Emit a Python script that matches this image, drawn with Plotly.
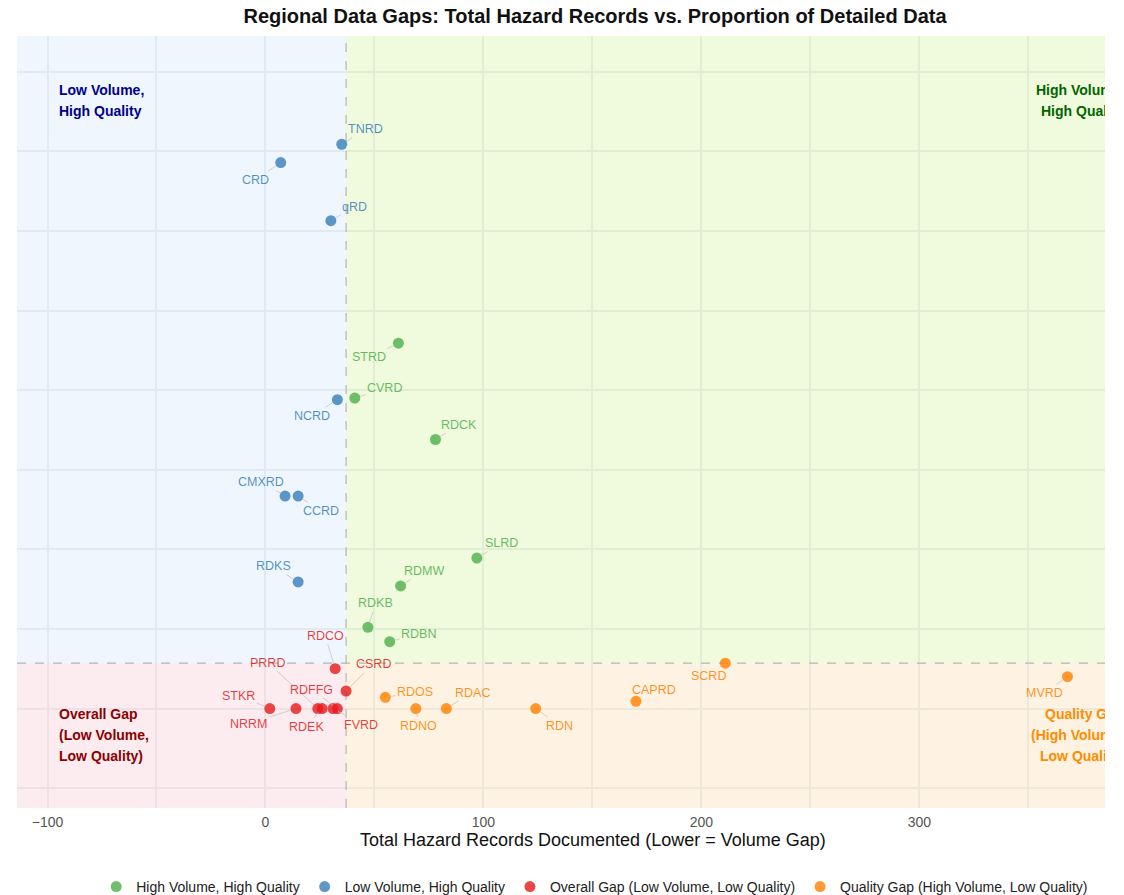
import numpy as np
import plotly.graph_objects as go

# ---------------- data ----------------
hvhq_regions = ["STRD", "CVRD", "RDCK", "SLRD", "RDMW", "RDKB", "RDBN"]
hvhq_records = [61, 41, 78, 97, 62, 47, 57]
hvhq_prop = [0.459, 0.390, 0.338, 0.189, 0.154, 0.102, 0.084]

lvhq_regions = ["TNRD", "CRD", "qRD", "NCRD", "CMXRD", "CCRD", "RDKS"]
lvhq_records = [35, 7, 30, 33, 9, 15, 15]
lvhq_prop = [0.709, 0.686, 0.613, 0.388, 0.267, 0.267, 0.159]

gap_regions = ["RDCO", "CSRD", "STKR", "NRRM", "PRRD", "RDEK", "FVRD", "RDFFG"]
gap_records = [32, 37, 2, 14, 24, 26, 31, 33]
gap_prop = [0.050, 0.022, 0.0, 0.0, 0.0, 0.0, 0.0, 0.0]

qgap_regions = ["SCRD", "MVRD", "CAPRD", "RDOS", "RDNO", "RDAC", "RDN"]
qgap_records = [211, 368, 170, 55, 69, 83, 124]
qgap_prop = [0.057, 0.040, 0.009, 0.014, 0.0, 0.0, 0.0]

categories = [
    "High Volume, High Quality",
    "Low Volume, High Quality",
    "Overall Gap (Low Volume, Low Quality)",
    "Quality Gap (High Volume, Low Quality)",
]
x_tick_vals = [-100, 0, 100, 200, 300]
x_minor_vals = [-50, 50, 150, 250, 350]

# ---------------- styling / positions ----------------
series = [
    (categories[0], hvhq_regions, hvhq_records, hvhq_prop, (77, 175, 74)),
    (categories[1], lvhq_regions, lvhq_records, lvhq_prop, (55, 126, 184)),
    (categories[2], gap_regions, gap_records, gap_prop, (228, 26, 28)),
    (categories[3], qgap_regions, qgap_records, qgap_prop, (255, 127, 0)),
]

# label offsets (pixels) relative to each point
label_offsets = {
    "TNRD": (24, -15), "CRD": (-25, 17), "qRD": (24, -14), "NCRD": (-25, 16),
    "CMXRD": (-24, -14), "CCRD": (23, 15), "RDKS": (-25, -16),
    "STRD": (-29, 14), "CVRD": (30, -10), "RDCK": (24, -15), "SLRD": (25, -15),
    "RDMW": (23, -15), "RDKB": (8, -24), "RDBN": (29, -8),
    "RDCO": (-10, -33), "PRRD": (-50, -46), "CSRD": (27, -27), "RDFFG": (-26, -19),
    "FVRD": (28, 16), "RDEK": (-16, 18), "STKR": (-31, -13), "NRRM": (-47, 15),
    "RDOS": (30, -5), "RDNO": (3, 17), "RDAC": (26, -16), "RDN": (24, 17),
    "CAPRD": (18, -11), "SCRD": (-17, 13), "MVRD": (-23, 16),
}

all_x = np.array(hvhq_records + lvhq_records + gap_records + qgap_records, dtype=float)
all_y = np.array(hvhq_prop + lvhq_prop + gap_prop + qgap_prop, dtype=float)
x_med = float(np.median(all_x))
y_med = float(np.median(all_y))

x_range = [-114.0, 385.2]
y_range = [-0.125, 0.845]

FONT = "Arial, Liberation Sans, Helvetica, sans-serif"

fig = go.Figure()

annotations = []
for name, regs, xs, ys, rgb in series:
    col = "rgb(%d,%d,%d)" % rgb
    fig.add_trace(go.Scatter(
        x=xs, y=ys, mode="markers+text", name=name,
        text=["" for _ in regs],
        textfont=dict(color="rgba(255,255,255,0.6)", size=10),
        marker=dict(color=col, size=11, opacity=0.8, line=dict(width=0)),
        hovertext=regs, hoverinfo="text+x+y",
    ))
    for r, xv, yv in zip(regs, xs, ys):
        dx, dy = label_offsets[r]
        annotations.append(dict(
            x=xv, y=yv, xref="x", yref="y", text=r, showarrow=True,
            ax=dx, ay=dy, arrowhead=0, arrowwidth=0.8, arrowcolor="#c4c4c4",
            standoff=5.5, font=dict(family=FONT, size=12.5,
                                    color="rgba(%d,%d,%d,0.85)" % rgb),
        ))

# quadrant labels (one annotation per line for line spacing)
quad_labels = [
    (["Low Volume,", "High Quality"], 0.0368, "left", 0.930, "#00008B"),
    (["High Volume,", "High Quality"], 1.0195, "right", 0.930, "#006400"),
    (["Overall Gap", "(Low Volume,", "Low Quality)"], 0.0368, "left", 0.122, "#8B0000"),
    (["Quality Gap", "(High Volume,", "Low Quality)"], 1.0195, "right", 0.122, "#FF8C00"),
]
for lines, xp, anchor, yp, col in quad_labels:
    for i, line in enumerate(lines):
        annotations.append(dict(
            x=xp, y=yp, xref="paper", yref="paper", text="<b>%s</b>" % line,
            showarrow=False, xanchor=anchor, yanchor="middle", align=anchor,
            yshift=-21 * i, font=dict(family=FONT, size=14, color=col),
        ))

# x-axis title (centred where the reference places it)
annotations.append(dict(
    x=0.5294, y=0, xref="paper", yref="paper", yshift=-32, showarrow=False,
    xanchor="center", yanchor="middle",
    text="Total Hazard Records Documented (Lower = Volume Gap)",
    font=dict(family=FONT, size=18, color="#111"),
))

shapes = [
    dict(type="rect", xref="x", yref="y", x0=x_range[0], x1=x_med, y0=y_med, y1=y_range[1],
         fillcolor="rgba(142,188,242,0.14)", line=dict(width=0), layer="between"),
    dict(type="rect", xref="x", yref="y", x0=x_med, x1=x_range[1], y0=y_med, y1=y_range[1],
         fillcolor="rgba(155,222,22,0.15)", line=dict(width=0), layer="between"),
    dict(type="rect", xref="x", yref="y", x0=x_range[0], x1=x_med, y0=y_range[0], y1=y_med,
         fillcolor="rgba(242,128,148,0.15)", line=dict(width=0), layer="between"),
    dict(type="rect", xref="x", yref="y", x0=x_med, x1=x_range[1], y0=y_range[0], y1=y_med,
         fillcolor="rgba(248,175,62,0.15)", line=dict(width=0), layer="between"),
    dict(type="line", xref="x", yref="y", x0=x_med, x1=x_med, y0=y_range[0], y1=y_range[1],
         line=dict(color="#b5b5b5", width=1.2, dash="dash"), layer="between"),
    dict(type="line", xref="x", yref="y", x0=x_range[0], x1=x_range[1], y0=y_med, y1=y_med,
         line=dict(color="#b5b5b5", width=1.2, dash="dash"), layer="between"),
]

GRID = "#EEF1F6"
fig.update_layout(
    template="plotly_white",
    width=1097, height=900,
    margin=dict(l=9, r=0, t=28, b=100, autoexpand=False),
    font=dict(family=FONT, size=14, color="#444"),
    title=dict(text="<b>Regional Data Gaps: Total Hazard Records vs. Proportion of Detailed Data</b>",
               x=0.5351, xanchor="center", y=0.9985, yanchor="top", yref="container",
               font=dict(family=FONT, size=20, color="#111")),
    xaxis=dict(range=x_range, tickvals=x_tick_vals, showgrid=True,
               gridcolor=GRID, gridwidth=1.5, zeroline=False, showline=False,
               ticks="", ticklabelstandoff=4, tickfont=dict(size=14, color="#555"),
               minor=dict(tickvals=x_minor_vals, showgrid=True,
                          gridcolor=GRID, gridwidth=1.5)),
    yaxis=dict(range=y_range, dtick=0.1, tick0=0, showgrid=True, gridcolor=GRID,
               gridwidth=1.5, zeroline=False, showticklabels=False, ticks="",
               showline=False),
    legend=dict(orientation="h", x=0.531, xanchor="center", y=-0.0816, yanchor="top",
                font=dict(size=14, color="#222")),
    shapes=shapes,
    annotations=annotations,
)

fig.write_html("out.html")
